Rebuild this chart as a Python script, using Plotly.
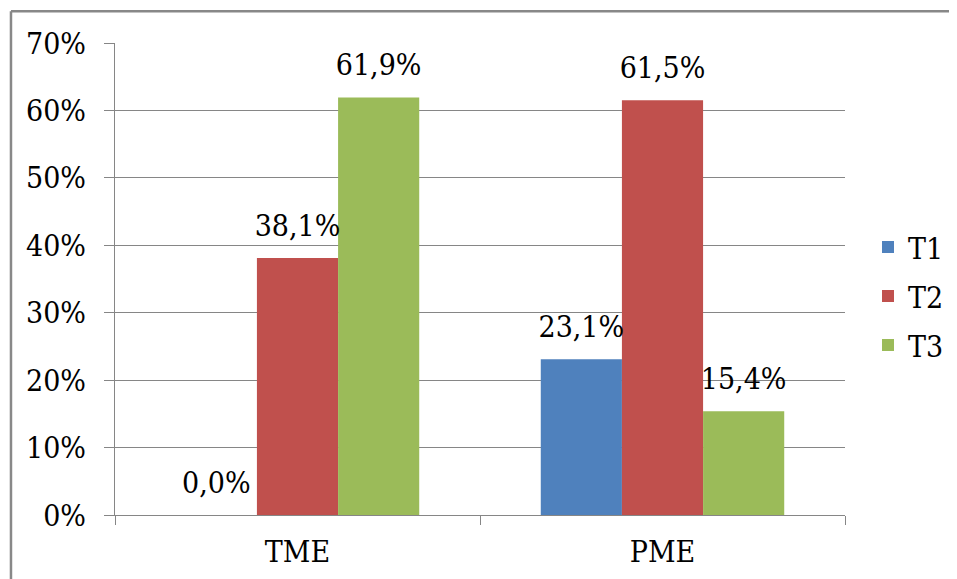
import plotly.graph_objects as go

categories = ["TME", "PME"]
series_names = ["T1", "T2", "T3"]
t1_values = [0.0, 0.231]
t2_values = [0.381, 0.615]
t3_values = [0.619, 0.154]
colors = ["#4F81BD", "#C0504D", "#9BBB59"]

font_family = "DejaVu Serif Condensed, DejaVu Serif"
font_size = 30
grid_color = "#868686"

fig = go.Figure()
for name, vals, col in zip(series_names, [t1_values, t2_values, t3_values], colors):
    fig.add_trace(go.Bar(
        x=categories,
        y=vals,
        name=name,
        legendgroup=name,
        offsetgroup=name,
        marker=dict(color=col, line=dict(width=0)),
    ))
# value labels: scatter traces grouped like the bars; the invisible marker
# lifts the text a little higher above each bar than bar text would sit
for name, vals in zip(series_names, [t1_values, t2_values, t3_values]):
    fig.add_trace(go.Scatter(
        x=categories,
        y=vals,
        mode="markers+text",
        offsetgroup=name,
        text=[f"{v * 100:.1f}%".replace(".", ",") for v in vals],
        textposition="top center",
        textfont=dict(size=font_size, color="black", family=font_family),
        marker=dict(size=22, opacity=0),
        showlegend=False,
        hoverinfo="skip",
        cliponaxis=False,
    ))

# page body adds an 8px offset; the figure overflows by 8px on the right and bottom
fig.update_layout(
    width=957,
    height=579,
    barmode="group",
    bargap=0.333,
    bargroupgap=0,
    scattermode="group",
    scattergap=0.333,
    separators=", ",
    plot_bgcolor="white",
    paper_bgcolor="white",
    margin=dict(l=107, r=120, t=35, b=72, autoexpand=False),
    font=dict(family=font_family, size=font_size, color="black"),
    legend=dict(
        x=1.0315, y=0.464, xanchor="left", yanchor="middle",
        font=dict(size=font_size, family=font_family), itemsizing="constant",
        tracegroupgap=7, bgcolor="rgba(0,0,0,0)",
    ),
    showlegend=True,
)

fig.update_yaxes(
    range=[0, 0.7],
    dtick=0.1,
    tickformat=".0%",
    showgrid=True,
    gridcolor=grid_color,
    gridwidth=1,
    showline=True,
    linecolor=grid_color,
    linewidth=1,
    ticks="outside",
    ticklen=10,
    tickcolor=grid_color,
    ticklabelstandoff=12,
    zeroline=False,
    tickfont=dict(size=font_size, family=font_family),
)
fig.update_xaxes(
    showline=True,
    linecolor=grid_color,
    linewidth=1,
    ticks="outside",
    tickson="boundaries",
    ticklen=9,
    tickcolor=grid_color,
    ticklabelstandoff=10,
    tickfont=dict(size=font_size, family=font_family),
)

# outer chart border: only the left and top edges show in the picture
border = dict(color="#888888", width=2.5)
fig.add_shape(type="line", xref="paper", yref="paper",
              x0=-0.1425, y0=1.0675, x1=1.3, y1=1.0675, line=border)
fig.add_shape(type="line", xref="paper", yref="paper",
              x0=-0.1425, y0=1.0675, x1=-0.1425, y1=-0.3, line=border)

fig.write_html("out.html")
